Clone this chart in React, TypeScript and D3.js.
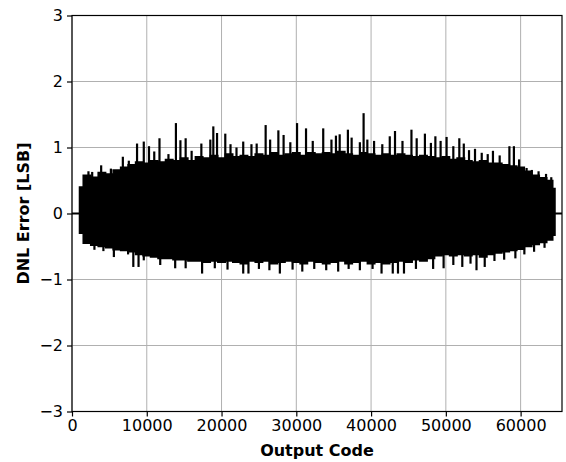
import React, { useEffect, useRef } from 'react';
import * as d3 from 'd3';

// code range shown on the x axis
const codeMax = 65535;
const codeStart = 980;
const codeEnd = 64600;

const xTicks = [0, 10000, 20000, 30000, 40000, 50000, 60000];
const yTicks = [-3, -2, -1, 0, 1, 2, 3];

// dense band envelope
const envCodes = [
  1000, 2000, 3000, 4000, 5000, 6000, 7000, 8000, 9000, 10000, 11000, 12000, 13000, 14000, 15000, 16000,
  17000, 18000, 19000, 20000, 21000, 22000, 23000, 24000, 25000, 26000, 27000, 28000, 29000, 30000, 31000, 32000,
  33000, 34000, 35000, 36000, 37000, 38000, 39000, 40000, 41000, 42000, 43000, 44000, 45000, 46000, 47000, 48000,
  49000, 50000, 51000, 52000, 53000, 54000, 55000, 56000, 57000, 58000, 59000, 60000, 61000, 62000, 63000, 64000, 64600
];
const envUpper = [
  0.40, 0.58, 0.55, 0.62, 0.60, 0.66, 0.70, 0.74, 0.78, 0.76, 0.80, 0.78, 0.82, 0.80, 0.84, 0.80,
  0.86, 0.84, 0.88, 0.84, 0.90, 0.86, 0.88, 0.86, 0.90, 0.88, 0.92, 0.88, 0.90, 0.92, 0.88, 0.92,
  0.90, 0.92, 0.90, 0.94, 0.90, 0.88, 0.92, 0.90, 0.88, 0.90, 0.88, 0.90, 0.88, 0.86, 0.88, 0.86,
  0.84, 0.86, 0.82, 0.84, 0.80, 0.78, 0.80, 0.76, 0.76, 0.74, 0.72, 0.70, 0.64, 0.58, 0.54, 0.50, 0.38
];
const envLower = [
  -0.30, -0.45, -0.48, -0.50, -0.52, -0.55, -0.56, -0.58, -0.62, -0.64, -0.66, -0.68, -0.68, -0.70, -0.70, -0.72,
  -0.72, -0.74, -0.72, -0.74, -0.72, -0.74, -0.76, -0.72, -0.74, -0.72, -0.76, -0.74, -0.72, -0.74, -0.76, -0.72,
  -0.74, -0.76, -0.74, -0.72, -0.76, -0.74, -0.72, -0.76, -0.74, -0.76, -0.74, -0.72, -0.74, -0.70, -0.72, -0.68,
  -0.64, -0.62, -0.64, -0.62, -0.64, -0.62, -0.66, -0.62, -0.60, -0.58, -0.56, -0.54, -0.50, -0.47, -0.44, -0.40, -0.33
];

// individual spikes sticking out of the band
const spikeUpCodes = [
  2200, 2700, 3900, 5200, 6800, 7600, 8700, 9600, 10300, 11000, 11700, 12900, 13900, 14500, 15200, 16000,
  17300, 18500, 18900, 19400, 20500, 21200, 22000, 22900, 24000, 24700, 25900, 26500, 27600, 28300, 29200, 30100,
  31300, 32200, 33600, 34700, 35300, 35800, 36900, 37400, 38500, 39000, 39500, 40400, 41500, 42500, 43200, 44200,
  45400, 46100, 47200, 48000, 48600, 49300, 50100, 51000, 51800, 52400, 53100, 53900, 54800, 55600, 56300, 57200,
  58500, 59100, 59800, 60800, 61500, 62400, 63400, 64100
];
const spikeUpValues = [
  0.64, 0.63, 0.73, 0.68, 0.86, 0.80, 1.06, 1.09, 1.02, 0.94, 1.14, 0.90, 1.37, 1.11, 1.14, 0.95,
  1.06, 1.12, 1.32, 1.22, 1.21, 1.05, 1.00, 1.09, 1.05, 1.06, 1.34, 1.12, 1.26, 1.19, 1.08, 1.37,
  1.29, 1.10, 1.29, 1.12, 1.18, 1.20, 1.27, 1.15, 1.08, 1.52, 1.12, 1.10, 1.05, 1.17, 1.25, 1.10,
  1.27, 1.14, 1.21, 1.07, 1.17, 1.10, 1.16, 1.02, 1.14, 1.06, 0.96, 0.98, 0.92, 0.90, 0.95, 0.88,
  1.02, 1.02, 0.82, 0.69, 0.66, 0.64, 0.60, 0.55
];
const spikeDownCodes = [
  3000, 4200, 5600, 7500, 8200, 8900, 9600, 11800, 13800, 15200, 17400, 19100, 20800, 22900, 23600, 25000,
  26400, 27800, 29500, 30800, 32400, 34000, 35600, 37000, 38500, 40200, 41400, 42900, 43600, 44400, 46000, 48300,
  49700, 51000, 52200, 53300, 54100, 55200, 56500, 57800, 59300, 60500, 61800, 63200
];
const spikeDownValues = [
  -0.55, -0.57, -0.66, -0.62, -0.81, -0.81, -0.71, -0.78, -0.83, -0.83, -0.91, -0.83, -0.85, -0.91, -0.91, -0.84,
  -0.86, -0.91, -0.85, -0.88, -0.84, -0.86, -0.88, -0.84, -0.86, -0.84, -0.91, -0.91, -0.91, -0.91, -0.84, -0.84,
  -0.83, -0.78, -0.81, -0.76, -0.86, -0.81, -0.72, -0.70, -0.68, -0.62, -0.58, -0.52
];

const W = 566;
const H = 462;

const DnlPlot = () => {
  const ref = useRef<SVGSVGElement | null>(null);

  useEffect(() => {
    if (!ref.current) return;
    const svg = d3.select(ref.current);
    svg.selectAll('*').remove();

    const margin = { top: 15.5, right: 4, bottom: 50.5, left: 72 };
    const width = W - margin.left - margin.right;
    const height = H - margin.top - margin.bottom;

    const x = d3.scaleLinear().domain([0, codeMax]).range([0, width]);
    const y = d3.scaleLinear().domain([-3, 3]).range([height, 0]);

    const g = svg.append('g').attr('transform', `translate(${margin.left},${margin.top})`);

    // grid
    g.append('g')
      .selectAll('line')
      .data(xTicks)
      .join('line')
      .attr('x1', d => x(d)).attr('x2', d => x(d))
      .attr('y1', 0).attr('y2', height)
      .attr('stroke', '#b0b0b0').attr('stroke-width', 1);
    g.append('g')
      .selectAll('line')
      .data(yTicks)
      .join('line')
      .attr('x1', 0).attr('x2', width)
      .attr('y1', d => y(d)).attr('y2', d => y(d))
      .attr('stroke', '#b0b0b0').attr('stroke-width', 1);

    // zero line where there is no data
    g.append('path')
      .datum([[0, 0], [codeStart, 0], [codeEnd, 0], [codeMax, 0]] as [number, number][])
      .attr('fill', 'none')
      .attr('stroke', '#000')
      .attr('stroke-width', 2)
      .attr('d', d3.line<[number, number]>().x(d => x(d[0])).y(d => y(d[1])));

    // dense band
    const band = envCodes.map((c, i) => ({ c, hi: envUpper[i], lo: envLower[i] }));
    const area = d3.area<{ c: number; hi: number; lo: number }>()
      .x(d => x(d.c))
      .y0(d => y(d.lo))
      .y1(d => y(d.hi))
      .curve(d3.curveStep);
    g.append('path').datum(band).attr('fill', '#000').attr('stroke', '#000').attr('stroke-width', 1.5).attr('d', area);

    // spikes
    const spikes = [
      ...spikeUpCodes.map((c, i) => ({ c, v: spikeUpValues[i] })),
      ...spikeDownCodes.map((c, i) => ({ c, v: spikeDownValues[i] })),
    ];
    g.append('g')
      .selectAll('line')
      .data(spikes)
      .join('line')
      .attr('x1', d => x(d.c)).attr('x2', d => x(d.c))
      .attr('y1', y(0)).attr('y2', d => y(d.v))
      .attr('stroke', '#000').attr('stroke-width', 2.2);

    // frame
    g.append('rect')
      .attr('width', width).attr('height', height)
      .attr('fill', 'none').attr('stroke', '#000').attr('stroke-width', 1.2);

    const font = 'DejaVu Sans, sans-serif';
    const fmt = (v: number) => (v < 0 ? '\u2212' + Math.abs(v) : String(v));

    const xa = g.append('g')
      .attr('transform', `translate(0,${height})`)
      .call(d3.axisBottom(x).tickValues(xTicks).tickFormat(d => String(d)).tickSize(5).tickPadding(3));
    const ya = g.append('g')
      .call(d3.axisLeft(y).tickValues(yTicks).tickFormat(d => fmt(d as number)).tickSize(5).tickPadding(4));
    [xa, ya].forEach(a => {
      a.select('.domain').remove();
      a.selectAll('line').attr('stroke', '#000').attr('stroke-width', 1.2);
      a.selectAll('text').attr('font-family', font).attr('font-size', 16).attr('fill', '#000');
    });

    svg.append('text')
      .attr('x', margin.left + width / 2)
      .attr('y', 456)
      .attr('text-anchor', 'middle')
      .attr('font-family', font)
      .attr('font-weight', 'bold')
      .attr('font-size', 16)
      .text('Output Code');

    svg.append('text')
      .attr('transform', `translate(29,${margin.top + height / 2}) rotate(-90)`)
      .attr('text-anchor', 'middle')
      .attr('font-family', font)
      .attr('font-weight', 'bold')
      .attr('font-size', 16)
      .text('DNL Error [LSB]');
  }, []);

  return (
    <svg
      ref={ref}
      width={W}
      height={H}
      style={{ position: 'absolute', left: 0, top: 0, background: '#fff' }}
    />
  );
};

export default function App() {
  return <DnlPlot />;
}
